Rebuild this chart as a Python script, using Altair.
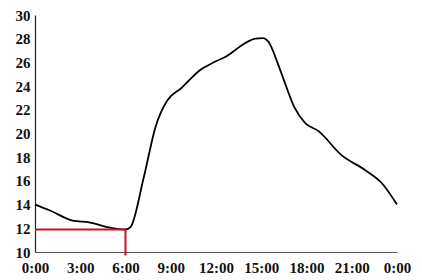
import altair as alt
import pandas as pd

hours = [0, 1, 2.5, 3.6, 5, 6, 6.33, 7.22, 8.0, 8.78, 9.67, 11, 12, 12.67, 13.9, 14.6, 15.1, 15.5, 16.1, 16.5, 17.2, 17.9, 18.8, 20.3, 21.9, 23, 24]
temps = [14.0, 13.5, 12.65, 12.5, 12.05, 11.9, 12.1, 16.35, 20.6, 22.8, 23.8, 25.4, 26.1, 26.5, 27.6, 28.0, 28.05, 27.7, 25.9, 24.5, 22.2, 20.9, 20.2, 18.2, 16.9, 15.8, 14.0]

x_ticks = [0, 3, 6, 9, 12, 15, 18, 21, 24]
x_labels = ["0:00", "3:00", "6:00", "9:00", "12:00", "15:00", "18:00", "21:00", "0:00"]
y_ticks = [10, 12, 14, 16, 18, 20, 22, 24, 26, 28, 30]

marker_hour = 6
marker_temp = 11.9

df = pd.DataFrame({"h": hours, "t": temps})
red_h = pd.DataFrame({"h": [0, marker_hour], "t": [marker_temp, marker_temp]})
red_v = pd.DataFrame({"h": [marker_hour, marker_hour], "t": [9.7, marker_temp]})

label_expr = "[" + ",".join(f"'{v}'" for v in x_labels) + "][datum.value/3]"

font = "Liberation Serif"

x = alt.X("h:Q", scale=alt.Scale(domain=[0, 24], nice=False, zero=False),
          axis=alt.Axis(values=x_ticks, labelExpr=label_expr, title=None, grid=False,
                        ticks=False, domainColor="#555", domainWidth=1.2,
                        labelFont=font, labelFontSize=15, labelFontWeight="bold",
                        labelColor="#111", labelPadding=8, labelOverlap=False,
                        labelFlush=False))
y = alt.Y("t:Q", scale=alt.Scale(domain=[10, 30], nice=False, zero=False),
          axis=alt.Axis(values=y_ticks, title=None, grid=False, ticks=False,
                        domainColor="#222", domainWidth=1.2,
                        labelFont=font, labelFontSize=15, labelFontWeight="bold",
                        labelColor="#111", labelPadding=5, labelOverlap=False,
                        labelFlush=False))

curve = alt.Chart(df).mark_line(color="black", strokeWidth=1.8, interpolate="monotone").encode(x=x, y=y)
rh = alt.Chart(red_h).mark_line(color="#c8102e", strokeWidth=2, clip=False).encode(x=x, y=y)
rv = alt.Chart(red_v).mark_line(color="#c8102e", strokeWidth=2, clip=False).encode(x=x, y=y)

chart = alt.layer(curve, rh, rv).properties(
    width=362, height=237,
    autosize=alt.AutoSizeParams(type="none"),
    padding={"left": 35, "top": 15, "right": 25, "bottom": 28},
).configure_view(stroke=None).configure_axis(labelOverlap=False, labelFlush=False)

chart.save("out.html", embed_options={"renderer": "svg", "actions": False})
